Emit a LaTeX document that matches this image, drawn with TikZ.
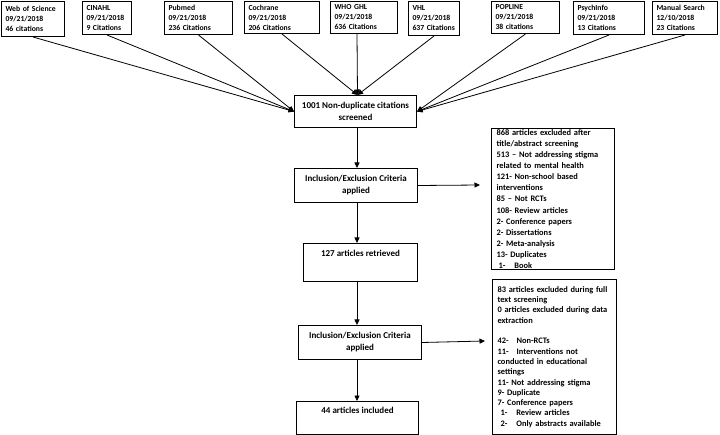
\documentclass[tikz,border=0pt]{standalone}
\usepackage{fontspec}
\setmainfont{Carlito}
\usetikzlibrary{arrows.meta}
\begin{document}
\begin{tikzpicture}[x=1pt,y=-1pt,
  box/.style={draw, line width=1pt, anchor=north west, inner xsep=5pt, inner ysep=0pt},
  src/.style={box, inner xsep=4pt, align=left, font=\bfseries\fontsize{7.7}{10}\selectfont},
  flow/.style={box, align=center, font=\bfseries\fontsize{9}{12}\selectfont},
  excl/.style={box, align=left},
  arr/.style={-{Triangle[length=5.5pt,width=5pt]}, line width=0.8pt},
]
\useasboundingbox[fill=white] (0,0) rectangle (720,435);

% source boxes
\node[src, minimum width=63pt, minimum height=35pt, text width=55pt] (wos) at (1,1) {Web of Science\\09/21/2018\\46 citations};
\node[src, minimum width=49pt, minimum height=33pt, text width=41pt] (cin) at (82,1) {CINAHL\\09/21/2018\\9 Citations};
\node[src, minimum width=68pt, minimum height=33pt, text width=60pt] (pub) at (164,1) {Pubmed\\09/21/2018\\236 Citations};
\node[src, minimum width=75pt, minimum height=32pt, text width=67pt] (coc) at (244,1) {Cochrane\\09/21/2018\\206 Citations};
\node[src, minimum width=67pt, minimum height=32pt, text width=59pt] (who) at (330,1) {WHO GHL\\09/21/2018\\636 Citations};
\node[src, minimum width=51pt, minimum height=34pt, text width=43pt] (vhl) at (408,1) {VHL\\09/21/2018\\\mbox{637 Citations}};
\node[src, minimum width=68pt, minimum height=32pt, text width=60pt] (pop) at (491,1) {POPLINE\\09/21/2018\\38 citations};
\node[src, minimum width=71pt, minimum height=33pt, text width=63pt] (psy) at (573,1) {PsychInfo\\09/21/2018\\13 Citations};
\node[src, minimum width=65pt, minimum height=33pt, text width=57pt] (man) at (652,1) {Manual Search\\12/10/2018\\23 Citations};

% main flow
\node[flow, minimum width=122pt, minimum height=32pt] (scr) at (294,95) {1001 Non-duplicate citations\\screened};
\node[flow, minimum width=123pt, minimum height=34pt] (inc1) at (294,168) {Inclusion/Exclusion Criteria\\applied};
\node[flow, minimum width=114pt, minimum height=38pt, inner ysep=3pt, text height=10pt, text depth=22pt] (ret) at (303,243) {127 articles retrieved};
\node[flow, minimum width=123pt, minimum height=34pt] (inc2) at (298,325) {Inclusion/Exclusion Criteria\\applied};
\node[flow, minimum width=122pt, minimum height=33pt, inner ysep=3pt, text height=9pt, text depth=18pt] (incl) at (296,401) {44 articles included};

% exclusion boxes
\node[excl, minimum width=123pt, minimum height=141pt, text width=113pt, font=\bfseries\fontsize{8.4}{11.1}\selectfont] (ex1) at (491,128) {868 articles excluded after\\title/abstract screening\\513 – Not addressing stigma\\related to mental health\\121- Non-school based\\interventions\\85 – Not RCTs\\108- Review articles\\2- Conference papers\\2- Dissertations\\2- Meta-analysis\\13- Duplicates\\\hspace*{2pt}1-\hspace{9pt}Book};
\node[excl, minimum width=124pt, minimum height=155pt, text width=114pt, font=\bfseries\fontsize{8.4}{10.3}\selectfont] (ex2) at (492,279) {83 articles excluded during full\\text screening\\0 articles excluded during data\\extraction\\[10.3pt]42-\hspace{8pt}Non-RCTs\\11-\hspace{8pt}Interventions not\\conducted in educational\\settings\\11- Not addressing stigma\\9- Duplicate\\7- Conference papers\\\hspace*{3pt}1-\hspace{9pt}Review articles\\\hspace*{3pt}2-\hspace{9pt}Only abstracts available};

% connectors from sources
\foreach \s in {wos,cin,pub} \draw[arr] (\s.south) -- (scr.west);
\foreach \s in {coc,vhl} \draw[arr] (\s.south) -- ([xshift=2pt]scr.north);
\draw[arr] (who.south -| 357,0) -- ([xshift=2pt]scr.north);
\foreach \s in {pop,psy,man} \draw[arr] (\s.south) -- (scr.east);

% main arrows
\coordinate (ax) at (357,0);
\coordinate (e1) at (480,185);
\coordinate (e2) at (485,341);
\draw[arr] (scr.south -| ax) -- (inc1.north -| ax);
\draw[arr] (inc1.south -| ax) -- (ret.north -| ax);
\draw[arr] (ret.south -| ax) -- (inc2.north -| ax);
\draw[arr] (inc2.south -| ax) -- (incl.north -| ax);
\draw[arr] (inc1.east) -- (e1);
\draw[arr] (inc2.east) -- (e2);
\end{tikzpicture}
\end{document}
